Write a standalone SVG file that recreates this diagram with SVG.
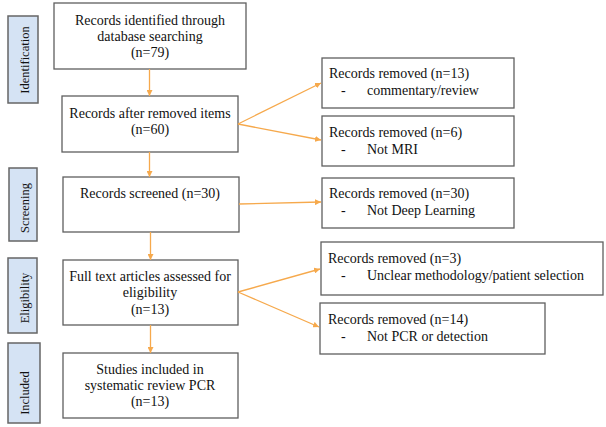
<svg xmlns="http://www.w3.org/2000/svg" width="606" height="427" viewBox="0 0 606 427">
<style>
.box{fill:#fff;stroke:#5f5f5f;stroke-width:1.3}
.side{fill:#d5e3f4;stroke:#666;stroke-width:1.5}
.t{font-family:"Liberation Serif","Times New Roman",serif;font-size:14px;fill:#111}
.c{text-anchor:middle}
.s{font-family:"Liberation Serif","Times New Roman",serif;font-size:12.5px;fill:#111;text-anchor:middle}
.a{stroke:#f6a94c;stroke-width:1.3;fill:none;marker-end:url(#ah)}
</style>
<defs>
<marker id="ah" viewBox="0 0 10 10" refX="10" refY="5" markerWidth="6" markerHeight="6" markerUnits="userSpaceOnUse" orient="auto">
<path d="M0,0 L10,5 L0,10 z" fill="#f6a94c"/>
</marker>
</defs>
<rect width="606" height="427" fill="#fff"/>
<g id="side-identification"><rect class="side" x="8" y="16" width="30" height="87"/><text class="s" transform="translate(29,60) rotate(-90)">Identification</text></g>
<g id="side-screening"><rect class="side" x="9" y="168" width="28" height="73"/><text class="s" transform="translate(29,208) rotate(-90)">Screening</text></g>
<g id="side-eligibility"><rect class="side" x="8" y="258" width="29" height="75"/><text class="s" transform="translate(29,298) rotate(-90)">Eligibility</text></g>
<g id="side-included"><rect class="side" x="8" y="343" width="32" height="80"/><text class="s" transform="translate(29,393) rotate(-90)">Included</text></g>

<g id="n1"><rect class="box" x="54" y="3" width="192" height="66"/>
<text class="t c" x="150" y="25">Records identified through</text>
<text class="t c" x="150" y="41">database searching</text>
<text class="t c" x="150" y="57">(n=79)</text></g>
<g id="n2"><rect class="box" x="62" y="96" width="176" height="56"/>
<text class="t c" x="150" y="118">Records after removed items</text>
<text class="t c" x="150" y="134">(n=60)</text></g>
<g id="n3"><rect class="box" x="63" y="177" width="176" height="55"/>
<text class="t c" x="150" y="198">Records screened (n=30)</text></g>
<g id="n4"><rect class="box" x="63" y="260" width="175" height="65"/>
<text class="t c" x="150" y="281">Full text articles assessed for</text>
<text class="t c" x="150" y="297">eligibility</text>
<text class="t c" x="150" y="314">(n=13)</text></g>
<g id="n5"><rect class="box" x="63" y="353" width="175" height="65"/>
<text class="t c" x="150" y="374">Studies included in</text>
<text class="t c" x="150" y="390">systematic review PCR</text>
<text class="t c" x="150" y="406">(n=13)</text></g>

<g id="r1"><rect class="box" x="322" y="58" width="192" height="50"/>
<text class="t" x="329" y="78">Records removed (n=13)</text>
<text class="t" x="341" y="95">-</text><text class="t" x="367" y="95">commentary/review</text></g>
<g id="r2"><rect class="box" x="322" y="116" width="192" height="50"/>
<text class="t" x="329" y="137">Records removed (n=6)</text>
<text class="t" x="341" y="154">-</text><text class="t" x="367" y="154">Not MRI</text></g>
<g id="r3"><rect class="box" x="322" y="178" width="192" height="50"/>
<text class="t" x="329" y="198">Records removed (n=30)</text>
<text class="t" x="341" y="215">-</text><text class="t" x="367" y="215">Not Deep Learning</text></g>
<g id="r4"><rect class="box" x="321" y="242" width="282" height="53"/>
<text class="t" x="328" y="263">Records removed (n=3)</text>
<text class="t" x="341" y="280">-</text><text class="t" x="367" y="280">Unclear methodology/patient selection</text></g>
<g id="r5"><rect class="box" x="320" y="303" width="225" height="51"/>
<text class="t" x="328" y="324">Records removed (n=14)</text>
<text class="t" x="341" y="341">-</text><text class="t" x="367" y="341">Not PCR or detection</text></g>

<g id="connectors">
<line class="a" x1="149.5" y1="69" x2="149.5" y2="96"/>
<line class="a" x1="149.5" y1="152" x2="149.5" y2="177"/>
<line class="a" x1="150.5" y1="232" x2="150.5" y2="260"/>
<line class="a" x1="150.5" y1="325" x2="150.5" y2="353"/>
<line class="a" x1="238" y1="124" x2="321" y2="83"/>
<line class="a" x1="238" y1="124" x2="321" y2="140"/>
<line class="a" x1="239" y1="204" x2="321" y2="202"/>
<line class="a" x1="238" y1="292" x2="320" y2="269"/>
<line class="a" x1="238" y1="292" x2="319" y2="327"/>
</g>
</svg>
